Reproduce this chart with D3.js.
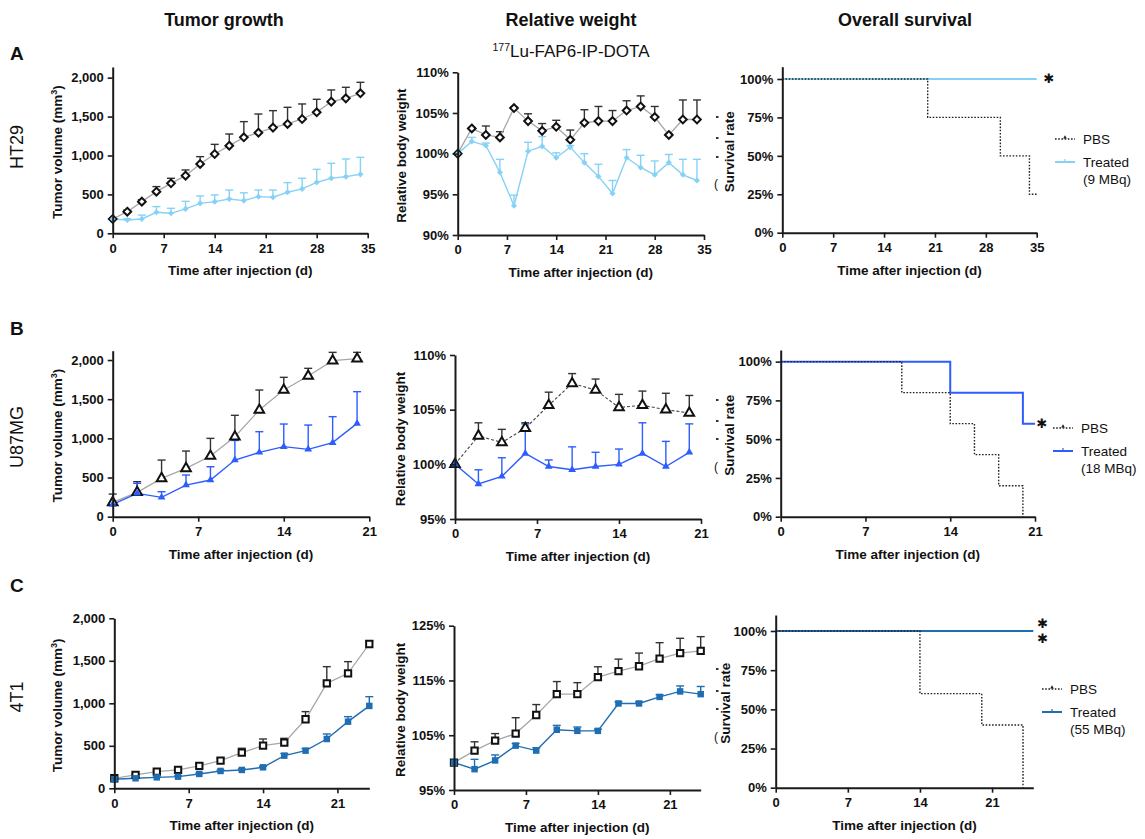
<!DOCTYPE html>
<head>
  <meta charset="utf-8">
  <script src="https://d3js.org/d3.v7.min.js"></script>
  <style>
  *{ margin:0; padding:0; }
  body{ background:#fff; }
  text{ font-family:'Liberation Sans', Arial, sans-serif; fill:#111; }
  .tick text{ font-size:13px; font-weight:bold; }
  .axis path, .axis line{ stroke:#1a1a1a; }
  .axis path{ stroke-width:2px; }
  .axis line{ stroke-width:1.6px; }
  .atitle{ font-size:13.5px; font-weight:bold; }
  </style>
</head>
<body>
<svg id="viz"></svg>
<script>
// ---- data ----
// HT29
let daysA = [0,2,4,6,8,10,12,14,16,18,20,22,24,26,28,30,32,34];
let tumA_pbs = [184,278,407,535,642,741,891,1019,1126,1233,1293,1358,1405,1469,1555,1692,1734,1799];
let tumA_pbs_err = [0,20,25,65,65,73,94,124,150,202,240,218,214,193,167,150,142,141];
let tumA_trt = [184,171,184,270,257,313,385,407,441,420,471,463,527,570,655,707,728,758];
let tumA_trt_err = [0,15,50,73,64,98,95,86,115,100,85,93,124,137,167,192,227,218];
let wtA_pbs = [100,103.1,102.3,102.0,105.6,104.0,102.8,103.3,101.7,103.8,104.0,104.0,105.3,105.8,104.5,102.3,104.2,104.2];
let wtA_pbs_err = [0,0.1,1.1,0.7,0.1,0.9,0.9,0.8,1.2,1.6,1.8,1.3,1.2,1.3,1.3,0.1,2.4,2.4];
let wtA_trt = [100,101.5,101.0,97.7,93.6,100.3,100.9,99.5,100.8,98.9,97.2,95.1,99.5,98.3,97.4,98.9,97.4,96.7];
let wtA_trt_err = [0,0.5,0.3,1.6,1.3,1.1,1.2,0.6,0.2,1.1,1.5,1.6,1.0,1.5,1.7,1.0,1.9,2.6];
let survA_pbs_t = [0,20,30,34,35], survA_pbs_v = [100,75,50,25,25];
let survA_trt_t = [0,35], survA_trt_v = [100,100];

// U87MG
let daysB = [0,2,4,6,8,10,12,14,16,18,20];
let tumB_pbs = [183,311,489,617,774,1021,1362,1617,1796,1991,2017];
let tumB_pbs_err = [106,136,234,221,226,273,255,162,98,107,81];
let tumB_trt = [157,298,247,404,468,723,821,894,860,945,1191];
let tumB_trt_err = [20,128,72,128,170,250,264,289,310,332,405];
let wtB_pbs = [100,102.6,102.0,103.3,105.4,107.4,106.8,105.2,105.4,105.0,104.7];
let wtB_pbs_err = [0,1.2,1.2,0.5,1.2,0.9,1.0,1.2,1.3,1.5,1.6];
let wtB_trt = [100,98.2,98.9,101.0,99.8,99.5,99.8,100.0,101.0,99.8,101.1];
let wtB_trt_err = [0,1.3,1.7,2.7,0.6,2.1,1.3,1.4,2.8,2.3,2.6];
let survB_pbs_t = [0,10,14,16,18,20], survB_pbs_v = [100,80,60,40,20,0];
let survB_trt_t = [0,14,20,21], survB_trt_v = [100,80,60,60];

// 4T1
let daysC = [0,2,4,6,8,10,12,14,16,18,20,22,24];
let tumC_pbs = [118,157,196,216,263,325,420,502,537,812,1235,1353,1698];
let tumC_pbs_err = [10,15,18,25,31,28,51,78,51,90,196,137,35];
let tumC_trt = [106,118,129,137,169,204,216,247,384,443,580,784,969];
let tumC_trt_err = [5,5,5,8,10,10,12,12,25,25,59,59,109];
let wtC_pbs = [100,102.2,104.0,105.3,108.7,112.5,112.5,115.6,116.7,117.6,119.0,120.0,120.4];
let wtC_pbs_err = [0,1.6,1.3,2.9,1.9,2.3,2.1,1.9,2.2,2.4,2.9,2.7,2.6];
let wtC_trt = [100,98.8,100.4,103.1,102.2,106.0,105.8,105.8,110.8,110.8,112.0,113.0,112.5];
let wtC_trt_err = [0,1.8,1.0,0.4,0.5,0.8,0.7,0.3,0.3,0.3,0.4,1.0,1.4];
let survC_pbs_t = [0,14,20,24], survC_pbs_v = [100,60,40,0];
let survC_trt_t = [0,25], survC_trt_v = [100,100];

// ticks
let xTicks35 = [0,7,14,21,28,35];
let xTicks21 = [0,7,14,21];
let xTicks24 = [0,7,14,21];
let tumTicks = [0,500,1000,1500,2000];
let survTicks = [0,25,50,75,100];

let svg = d3.select("svg").attr("width",1145).attr("height",839);

let fmtN = d3.format(",");
let fmtP = d => d + "%";

function axes(g, x, y, xt, yt, yf, xTitle, yTitle, yTitleX){
  g.append("g").attr("class","axis")
    .attr("transform","translate(0,"+y.range()[0]+")")
    .call(d3.axisBottom(x).tickValues(xt).tickSize(5).tickSizeOuter(0).tickPadding(5))
  g.append("g").attr("class","axis")
    .attr("transform","translate("+x.range()[0]+",0)")
    .call(d3.axisLeft(y).tickValues(yt).tickFormat(yf).tickSize(5).tickSizeOuter(0).tickPadding(4))
  g.selectAll(".tick text").attr("fill","#111")
  let [x0,x1] = x.range()
  g.append("text").attr("class","atitle")
    .attr("x",(x0+x1)/2).attr("y",y.range()[0]+42)
    .attr("text-anchor","middle").text(xTitle)
  let ym = (y.range()[0]+y.range()[1])/2 + 2
  g.append("text").attr("class","atitle")
    .attr("transform","translate("+yTitleX+","+ym+") rotate(-90)")
    .attr("text-anchor","middle").attr("dy","0.35em").html(yTitle)
}

function series(g, x, y, days, vals, errs, o){
  let pts = days.map((d,i)=>({d:d, v:vals[i], e:errs[i]}))
  // error bars (upper only)
  let eb = g.append("g")
  eb.selectAll("line.v").data(pts.filter(p=>p.e>0)).enter().append("line")
    .attr("x1",p=>x(p.d)).attr("x2",p=>x(p.d))
    .attr("y1",p=>y(p.v)).attr("y2",p=>y(p.v+p.e))
    .attr("stroke",o.err).attr("stroke-width",1.4)
  eb.selectAll("line.c").data(pts.filter(p=>p.e>0)).enter().append("line")
    .attr("x1",p=>x(p.d)-4).attr("x2",p=>x(p.d)+4)
    .attr("y1",p=>y(p.v+p.e)).attr("y2",p=>y(p.v+p.e))
    .attr("stroke",o.err).attr("stroke-width",1.4)
  return pts
}

function linesAndMarks(g, x, y, pts, o){
  g.append("path").datum(pts)
    .attr("d", d3.line().x(p=>x(p.d)).y(p=>y(p.v)))
    .attr("fill","none").attr("stroke",o.line).attr("stroke-width",o.lw||1.3)
    .attr("stroke-dasharray",o.dash||null)
  return function(){
    g.selectAll(null).data(pts).enter().append("path")
      .attr("transform",p=>"translate("+x(p.d)+","+y(p.v)+")")
      .attr("d", d3.symbol(o.sym, o.size))
      .attr("fill",o.fill).attr("stroke",o.stroke||"none").attr("stroke-width",o.sw||0)
  }
}

function linePanel(c){
  let g = svg.append("g")
  let x = d3.scaleLinear().domain(c.xd).range([c.x0,c.x1])
  let y = d3.scaleLinear().domain(c.yd).range([c.y0,c.y1])
  let p1 = series(g,x,y,c.days,c.pbs,c.pbsErr,{err:"#333"})
  let p2 = series(g,x,y,c.days,c.trt,c.trtErr,{err:c.color})
  let m1 = linesAndMarks(g,x,y,p1,{line:c.pbsLine||"#a8a8a8",dash:c.pbsDash,lw:c.pbsLw,sym:c.sym,size:c.openSize,fill:"#fff",stroke:"#111",sw:2})
  let m2 = linesAndMarks(g,x,y,p2,{line:c.color,lw:1.4,sym:c.sym,size:c.fillSize,fill:c.color})
  m1(); m2()
  axes(g,x,y,c.xt,c.yt,c.yf,"Time after injection (d)",c.yTitle,c.yTitleX)
}

function survPanel(c){
  let g = svg.append("g")
  let x = d3.scaleLinear().domain(c.xd).range([c.x0,c.x1])
  let y = d3.scaleLinear().domain(c.yd).range([c.y0,c.y1])
  let step = d3.line().x(p=>x(p[0])).y(p=>y(p[1])).curve(d3.curveStepAfter)
  g.append("path").datum(c.trtT.map((t,i)=>[t,c.trtV[i]]))
    .attr("d",step).attr("fill","none").attr("stroke",c.color).attr("stroke-width",2)
  g.append("path").datum(c.pbsT.map((t,i)=>[t,c.pbsV[i]]))
    .attr("d",step).attr("fill","none").attr("stroke","#222").attr("stroke-width",1.4)
    .attr("stroke-dasharray","1.6,1.6")
  axes(g,x,y,c.xt,survTicks,fmtP,"Time after injection (d)","Survival rate",c.yTitleX)
  // stars
  c.stars.forEach(s=>{
    g.append("text").attr("x",s[0]).attr("y",s[1]).attr("dy","0.35em")
      .attr("text-anchor","middle").style("font-family","DejaVu Sans").style("font-size","13px")
      .text("\u2731")
  })
  // legend
  let lx = c.legX, ly = c.legY
  g.append("line").attr("x1",lx).attr("x2",lx+20).attr("y1",ly).attr("y2",ly)
    .attr("stroke","#222").attr("stroke-width",1.4).attr("stroke-dasharray","1.6,1.6")
  g.append("path").attr("transform","translate("+(lx+10)+","+(ly-1.5)+")")
    .attr("d",d3.symbol(d3.symbolTriangle,6)).attr("fill","#222")
  g.append("text").attr("x",lx+28).attr("y",ly).attr("dy","0.35em").style("font-size","13.5px").text("PBS")
  let ty = ly+23
  g.append("line").attr("x1",lx).attr("x2",lx+20).attr("y1",ty).attr("y2",ty)
    .attr("stroke",c.color).attr("stroke-width",2)
  g.append("line").attr("x1",lx+10).attr("x2",lx+10).attr("y1",ty-3).attr("y2",ty)
    .attr("stroke",c.color).attr("stroke-width",1.2)
  g.append("text").attr("x",lx+28).attr("y",ty).attr("dy","0.35em").style("font-size","13.5px").text("Treated")
  g.append("text").attr("x",lx+28).attr("y",ty+17).attr("dy","0.35em").style("font-size","13.5px").text(c.dose)
}

let tumTitle = "Tumor volume (mm<tspan baseline-shift='super' font-size='9px'>3</tspan>)"
let lightBlue = "#86d2f6", midBlue = "#2d5cff", darkBlue = "#1f6db2"

// ---- row A: HT29 ----
linePanel({x0:112.7,x1:367.7,y0:233.3,y1:67,xd:[0,35],yd:[0,2137],xt:xTicks35,yt:tumTicks,yf:fmtN,
  days:daysA,pbs:tumA_pbs,pbsErr:tumA_pbs_err,trt:tumA_trt,trtErr:tumA_trt_err,color:lightBlue,
  sym:d3.symbolDiamond2,openSize:38,fillSize:24,yTitle:tumTitle,yTitleX:57})
linePanel({x0:457.7,x1:704,y0:235,y1:72.3,xd:[0,35],yd:[90,110],xt:xTicks35,yt:[90,95,100,105,110],yf:fmtP,
  days:daysA,pbs:wtA_pbs,pbsErr:wtA_pbs_err,trt:wtA_trt,trtErr:wtA_trt_err,color:lightBlue,
  sym:d3.symbolDiamond2,openSize:38,fillSize:24,yTitle:"Relative body weight",yTitleX:401.7})
survPanel({x0:782.3,x1:1036.7,y0:232.7,y1:66.7,xd:[0,35],yd:[0,108],xt:xTicks35,
  pbsT:survA_pbs_t,pbsV:survA_pbs_v,trtT:survA_trt_t,trtV:survA_trt_v,color:lightBlue,
  stars:[[1049,78]],legX:1055,legY:139,dose:"(9 MBq)",yTitleX:729})

// ---- row B: U87MG ----
linePanel({x0:112.7,x1:369.3,y0:516.7,y1:350.7,xd:[0,21],yd:[0,2119],xt:xTicks21,yt:tumTicks,yf:fmtN,
  days:daysB,pbs:tumB_pbs,pbsErr:tumB_pbs_err,trt:tumB_trt,trtErr:tumB_trt_err,color:midBlue,
  sym:d3.symbolTriangle,openSize:40,fillSize:26,yTitle:tumTitle,yTitleX:57})
linePanel({x0:455,x1:701,y0:519,y1:355,xd:[0,21],yd:[95,110],xt:xTicks21,yt:[95,100,105,110],yf:fmtP,
  days:daysB,pbs:wtB_pbs,pbsErr:wtB_pbs_err,trt:wtB_trt,trtErr:wtB_trt_err,color:midBlue,
  sym:d3.symbolTriangle,openSize:40,fillSize:26,pbsLine:"#444",pbsDash:"3,2",pbsLw:1.1,
  yTitle:"Relative body weight",yTitleX:400.7})
survPanel({x0:780.7,x1:1035,y0:516.7,y1:350,xd:[0,21],yd:[0,107.5],xt:xTicks21,
  pbsT:survB_pbs_t,pbsV:survB_pbs_v,trtT:survB_trt_t,trtV:survB_trt_v,color:midBlue,
  stars:[[1042,423]],legX:1053,legY:428,dose:"(18 MBq)",yTitleX:729})

// ---- row C: 4T1 ----
linePanel({x0:114.3,x1:369.3,y0:788.3,y1:618.3,xd:[0,24],yd:[0,2000],xt:xTicks24,yt:tumTicks,yf:fmtN,
  days:daysC,pbs:tumC_pbs,pbsErr:tumC_pbs_err,trt:tumC_trt,trtErr:tumC_trt_err,color:darkBlue,
  sym:d3.symbolSquare,openSize:40,fillSize:42,yTitle:tumTitle,yTitleX:57})
linePanel({x0:454,x1:700.7,y0:790,y1:625.7,xd:[0,24],yd:[95,125],xt:xTicks24,yt:[95,105,115,125],yf:fmtP,
  days:daysC,pbs:wtC_pbs,pbsErr:wtC_pbs_err,trt:wtC_trt,trtErr:wtC_trt_err,color:darkBlue,
  sym:d3.symbolSquare,openSize:40,fillSize:42,yTitle:"Relative body weight",yTitleX:400.7})
survPanel({x0:775.7,x1:1033.3,y0:787.7,y1:615,xd:[0,25],yd:[0,110.2],xt:xTicks24,
  pbsT:survC_pbs_t,pbsV:survC_pbs_v,trtT:survC_trt_t,trtV:survC_trt_v,color:darkBlue,
  stars:[[1042.7,623],[1042.7,638]],legX:1042,legY:689,dose:"(55 MBq)",yTitleX:725})

// ---- headers, row labels ----
let heads = [["Tumor growth",224],["Relative weight",571],["Overall survival",905]]
heads.forEach(h=>svg.append("text").attr("x",h[1]).attr("y",26).attr("text-anchor","middle")
  .style("font-size","18px").style("font-weight","bold").text(h[0]))
svg.append("text").attr("x",571).attr("y",57).attr("text-anchor","middle").style("font-size","17px")
  .html("<tspan font-size='10.5px' dy='-6'>177</tspan><tspan dy='6'>Lu-FAP6-IP-DOTA</tspan>")

let rows = [["A","HT29",60,147],["B","U87MG",335,437],["C","4T1",592,697]]
rows.forEach(r=>{
  svg.append("text").attr("x",10).attr("y",r[2]).style("font-size","19px").style("font-weight","bold").text(r[0])
  svg.append("text").attr("transform","translate(17,"+r[3]+") rotate(-90)").attr("text-anchor","middle")
    .attr("dy","0.35em").style("font-size","18px").text(r[1])
})

// cut-off legend remnants beside middle panels
let stubs = [[117,138,157,184],[400,421,439,467],[669,691,709,737]]
stubs.forEach(s=>{
  s.slice(0,3).forEach(yy=>svg.append("rect").attr("x",716).attr("y",yy-1).attr("width",2.5).attr("height",2).attr("fill","#333"))
  svg.append("text").attr("x",714).attr("y",s[3]).attr("dy","0.35em").style("font-size","12px").text("(")
})
</script>
</body>
